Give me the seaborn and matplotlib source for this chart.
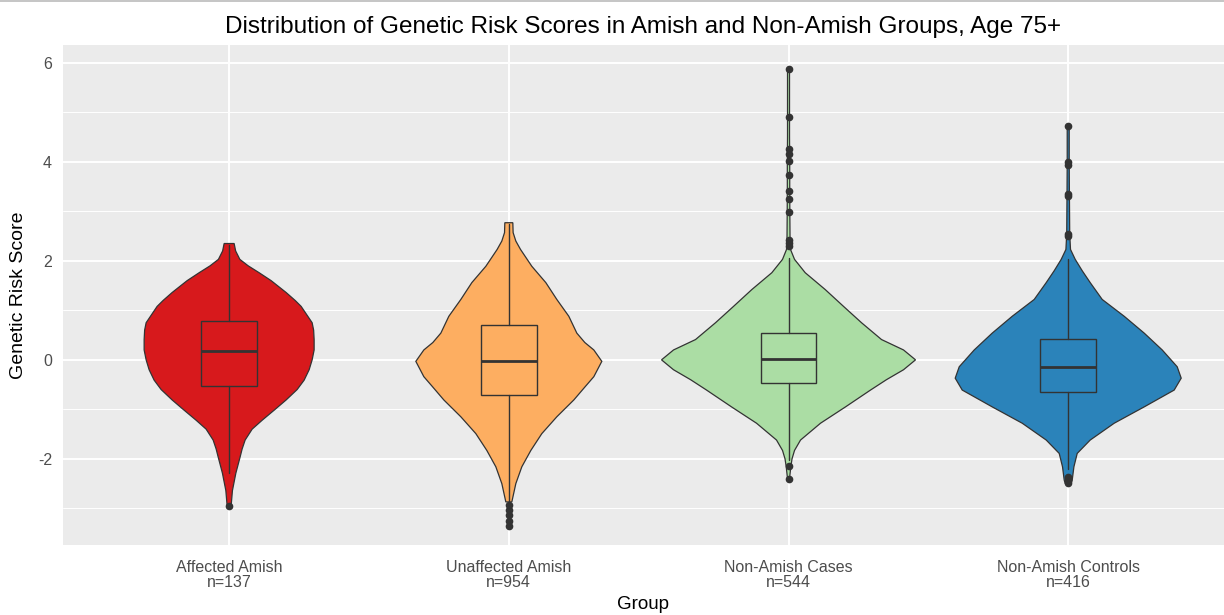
import matplotlib
matplotlib.use("Agg")
import matplotlib.pyplot as plt
from matplotlib.lines import Line2D
import seaborn as sns

groups = ["Affected Amish", "Unaffected Amish", "Non-Amish Cases", "Non-Amish Controls"]
group_n = [137, 954, 544, 416]

# violin outlines: score levels and half width (density, px)
red_y = [2.35, 2.2, 2.03, 1.9, 1.76, 1.6, 1.36, 1.2, 1.08, 0.9, 0.75, 0.6, 0.41, 0.2, 0.0, -0.2,
         -0.41, -0.6, -0.81, -1.0, -1.22, -1.4, -1.62, -1.8, -1.96, -2.29, -2.64, -2.95]
red_w = [5, 6.5, 10.7, 19, 30, 42, 57, 66, 72, 78, 83, 84.5, 85, 85, 83, 80,
         75, 68, 57, 46, 33, 23, 16, 13, 11, 6.7, 3.3, 2]

orange_y = [2.77, 2.57, 2.4, 2.23, 1.89, 1.56, 1.22, 0.88, 0.54, 0.35, 0.2, -0.03, -0.34, -0.55,
            -0.81, -1.15, -1.49, -1.83, -2.16, -2.5, -2.87]
orange_w = [4, 4.3, 7, 11.7, 23, 37, 48, 60, 68, 76, 85, 93, 85, 76,
            65, 48, 33, 22, 13, 7, 3]

green_y = [5.88, 5.0, 4.5, 4.0, 3.5, 3.0, 2.5, 2.23, 2.03, 1.76, 1.42, 1.08, 0.75, 0.41, 0.2, 0.0,
           -0.2, -0.4, -0.61, -0.95, -1.28, -1.62, -1.83, -2.0, -2.16, -2.4]
green_w = [1, 1, 1, 1.2, 1.2, 1.3, 1.5, 2, 6, 16.7, 36.7, 55, 73, 93, 115, 127,
           115, 98, 82, 57, 32, 12, 6, 3.5, 2.3, 1]

blue_y = [4.72, 4.0, 3.35, 2.54, 2.23, 2.03, 1.8, 1.56, 1.22, 0.88, 0.54, 0.2, -0.14, -0.37, -0.61,
          -0.95, -1.28, -1.62, -1.89, -2.16, -2.43, -2.5]
blue_w = [1, 1, 1.2, 1.5, 2.3, 7, 14, 22, 34, 56, 76, 94, 109, 113, 106,
          76, 46, 22, 9, 5.7, 4, 3]

# box summaries
q1 = [-0.53, -0.72, -0.47, -0.64]
med = [0.17, -0.03, 0.01, -0.15]
q3 = [0.79, 0.71, 0.54, 0.43]
whis_lo = [-2.29, -2.85, -2.03, -2.2]
whis_hi = [2.33, 2.75, 2.05, 2.03]

red_out = [-2.95]
orange_out = [-2.94, -3.04, -3.14, -3.25, -3.35]
green_out = [5.88, 4.9, 4.26, 4.16, 4.02, 3.73, 3.41, 3.25, 2.98, 2.43, 2.37, 2.3, -2.15, -2.4]
blue_out = [4.72, 3.99, 3.94, 3.35, 3.3, 2.54, 2.5, -2.37, -2.43, -2.48]

sns.set_theme(style="darkgrid", rc={
    "axes.facecolor": "#EBEBEB",
    "grid.color": "white",
    "axes.edgecolor": "#EBEBEB",
})
plt.rcParams["font.family"] = ["Liberation Sans", "DejaVu Sans"]
plt.rcParams["axes.unicode_minus"] = False

palette = ["#D7191C", "#FDAE61", "#ABDDA4", "#2B83BA"]
outline = "#333333"
px = 279.7  # pixels per category step

fig = plt.figure(figsize=(12.24, 6.15), dpi=100)
ax = fig.add_axes([63 / 1224, 70 / 615, 1161 / 1224, 500 / 615])

violins = [(red_y, red_w), (orange_y, orange_w), (green_y, green_w), (blue_y, blue_w)]
for i, (ys, ws) in enumerate(violins):
    left = [i - w / px for w in ws]
    right = [i + w / px for w in ws]
    ax.fill(left + right[::-1], ys + ys[::-1], facecolor=palette[i],
            edgecolor=outline, linewidth=0.9, zorder=2)

stats = []
outs = [red_out, orange_out, green_out, blue_out]
for i in range(4):
    stats.append({"q1": q1[i], "med": med[i], "q3": q3[i],
                  "whislo": whis_lo[i], "whishi": whis_hi[i], "fliers": outs[i]})
bp = ax.bxp(stats, positions=range(4), widths=0.2, patch_artist=True,
            showcaps=False, manage_ticks=False,
            boxprops=dict(edgecolor=outline, linewidth=1.0),
            whiskerprops=dict(color=outline, linewidth=1.0),
            medianprops=dict(color=outline, linewidth=2.0),
            flierprops=dict(marker="o", markersize=4.5, markerfacecolor=outline,
                            markeredgecolor=outline))
for patch, c in zip(bp["boxes"], palette):
    patch.set_facecolor(c)
    patch.set_zorder(3)
for k in ("whiskers", "medians", "fliers"):
    for a in bp[k]:
        a.set_zorder(4)

ax.set_xlim(-0.594, 3.557)
ax.set_ylim(-3.74, 6.36)
ax.set_xticks(range(4))
ax.set_xticklabels([f"{g}\nn={n}" for g, n in zip(groups, group_n)],
                   fontsize=11.5, color="#4D4D4D", linespacing=1.0)
ax.set_yticks([-2, 0, 2, 4, 6])
ax.set_yticks([-3, -1, 1, 3, 5], minor=True)
ax.tick_params(axis="y", labelsize=11.5, labelcolor="#4D4D4D")
ax.tick_params(which="major", length=4, width=0.8, color="#333333")
ax.tick_params(axis="y", pad=4)
ax.tick_params(axis="x", pad=7)
ax.tick_params(which="minor", length=0)
ax.grid(which="major", color="white", linewidth=1.4)
ax.grid(which="minor", axis="y", color="white", linewidth=0.7)
for s in ax.spines.values():
    s.set_visible(False)

ax.set_xlabel("Group", fontsize=13.5, color="black", labelpad=4)
ax.set_ylabel("Genetic Risk Score", fontsize=14, color="black", labelpad=8)
ax.set_title("Distribution of Genetic Risk Scores in Amish and Non-Amish Groups, Age 75+",
             fontsize=17.5, color="black", pad=9)

fig.add_artist(Line2D([0, 1], [0.998, 0.998], color="#BBBBBB", linewidth=1.2))

fig.savefig("out.png", dpi=100)
